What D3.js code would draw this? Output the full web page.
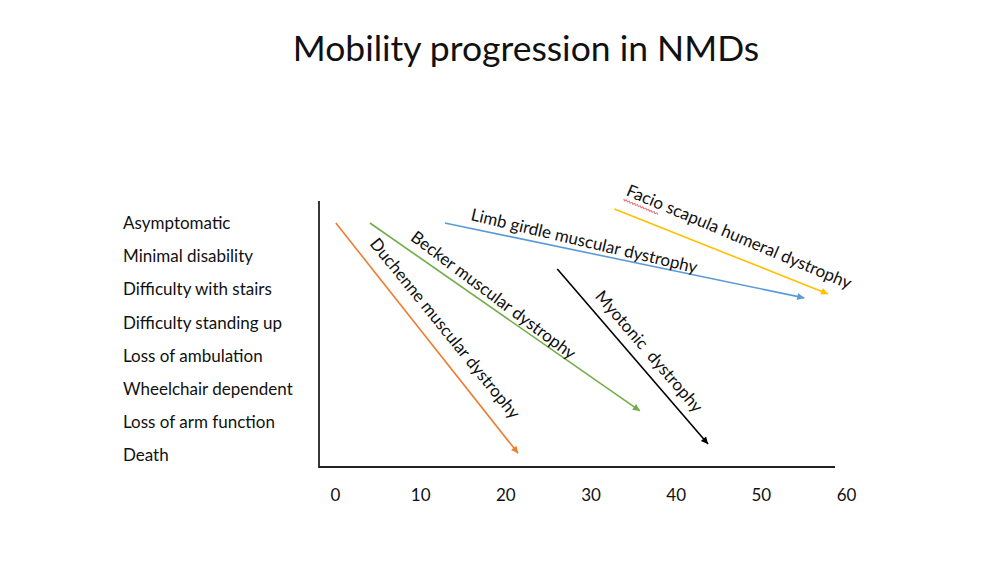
<!DOCTYPE html>
<html>
<head>
<meta charset="utf-8">
<script src="https://cdn.jsdelivr.net/npm/d3@7"></script>
<style>
  html, body { margin: 0; padding: 0; background: #fff; }
  svg { display: block; }
  text { font-family: Lato, "Open Sans", sans-serif; fill: #111; }
</style>
</head>
<body>
<svg id="chart" width="1000" height="570"></svg>
<script>
// ---- data ----
const titleText = "Mobility progression in NMDs";
const levels = ["Asymptomatic", "Minimal disability", "Difficulty with stairs", "Difficulty standing up",
                "Loss of ambulation", "Wheelchair dependent", "Loss of arm function", "Death"];
const xTicks = [0, 10, 20, 30, 40, 50, 60];
const diseases = ["Duchenne muscular dystrophy", "Becker muscular dystrophy", "Limb girdle muscular dystrophy",
                  "Facio scapula humeral dystrophy", "Myotonic  dystrophy"];
const startAge = [0.1, 4.1, 12.9, 32.8, 26.1];
const endAge = [21.5, 35.8, 55.1, 57.9, 43.8];
const startLevel = [0, 0, 0, -0.42, 1.39];
const endLevel = [6.95, 5.67, 2.26, 2.14, 6.67];

// ---- styles / layout ----
const colors = ["#ED7D31", "#70AD47", "#5B9BD5", "#FFC000", "#000000"];
const labelAlong = [37, 42, 24, 5, 45];
const labelPerp = [13, 9, 8, 17, 10];
const labelRotAdj = [-0.7, 2, 1.5, 1.2, 0];
const FS = "17px";

const svg = d3.select("#chart");
const x = d3.scaleLinear().domain([0, 60]).range([335, 846]);
const yLin = d3.scaleLinear().domain([0, levels.length - 1]).range([223, 455]);
const yCat = d3.scalePoint().domain(levels).range([223, 455]);

// title
svg.append("text")
  .attr("x", 526).attr("y", 61)
  .attr("text-anchor", "middle")
  .style("font-size", "35.5px")
  .style("font-weight", 400)
  .text(titleText);

// frame axes
const frame = svg.append("g").attr("stroke", "#222").attr("stroke-width", 1.8).attr("fill", "none");
frame.append("path").attr("d", `M319,201 L319,467 L835,467`);

// y labels
svg.append("g").selectAll("text").data(levels).join("text")
  .attr("x", 123).attr("y", d => yCat(d)).attr("dy", "0.36em")
  .style("font-size", FS)
  .text(d => d);

// x tick labels via axis
const xAxis = d3.axisBottom(x).tickValues(xTicks).tickSize(0).tickPadding(0).tickFormat(d3.format("d"));
const gx = svg.append("g").attr("transform", "translate(0,489)").call(xAxis);
gx.select(".domain").remove();
gx.selectAll("text").style("font-family", "Lato, sans-serif").style("font-size", FS).attr("fill", "#111");

// arrow markers
const defs = svg.append("defs");
colors.forEach((c, i) => {
  defs.append("marker")
    .attr("id", "arr" + i)
    .attr("viewBox", "0 0 10 10")
    .attr("refX", 10).attr("refY", 5)
    .attr("markerUnits", "userSpaceOnUse")
    .attr("markerWidth", 9).attr("markerHeight", 7)
    .attr("orient", "auto")
    .append("path").attr("d", "M0,0 L10,5 L0,10 Z").attr("fill", c);
});

const series = diseases.map((name, i) => ({
  name, i,
  x1: x(startAge[i]), y1: yLin(startLevel[i]),
  x2: x(endAge[i]), y2: yLin(endLevel[i])
}));

svg.append("g").selectAll("line").data(series).join("line")
  .attr("x1", d => d.x1).attr("y1", d => d.y1)
  .attr("x2", d => d.x2).attr("y2", d => d.y2)
  .attr("stroke", d => colors[d.i])
  .attr("stroke-width", 1.6)
  .attr("marker-end", d => `url(#arr${d.i})`);

// labels along arrows
series.forEach(d => {
  const dx = d.x2 - d.x1, dy = d.y2 - d.y1;
  const len = Math.hypot(dx, dy);
  const ux = dx / len, uy = dy / len;
  const nx = uy, ny = -ux; // normal to the upper-right side
  const px = d.x1 + ux * labelAlong[d.i] + nx * labelPerp[d.i];
  const py = d.y1 + uy * labelAlong[d.i] + ny * labelPerp[d.i];
  const ang = Math.atan2(dy, dx) * 180 / Math.PI + labelRotAdj[d.i];
  const g = svg.append("g").attr("transform", `translate(${px},${py}) rotate(${ang})`);
  const t = g.append("text")
    .attr("x", 0).attr("y", 0)
    .style("font-size", FS)
    .style("white-space", "pre")
    .text(d.name);
  if (d.name.startsWith("Facio")) {
    const w = t.node().getSubStringLength(0, 5);
    const pts = [];
    for (let s = 0; s <= w; s += 1.5) pts.push([s, 4 + (Math.round(s / 1.5) % 2 === 0 ? 0 : 1.5)]);
    g.append("path").attr("d", d3.line()(pts)).attr("fill", "none")
      .attr("stroke", "#E8707A").attr("stroke-width", 1);
  }
});
</script>
</body>
</html>
